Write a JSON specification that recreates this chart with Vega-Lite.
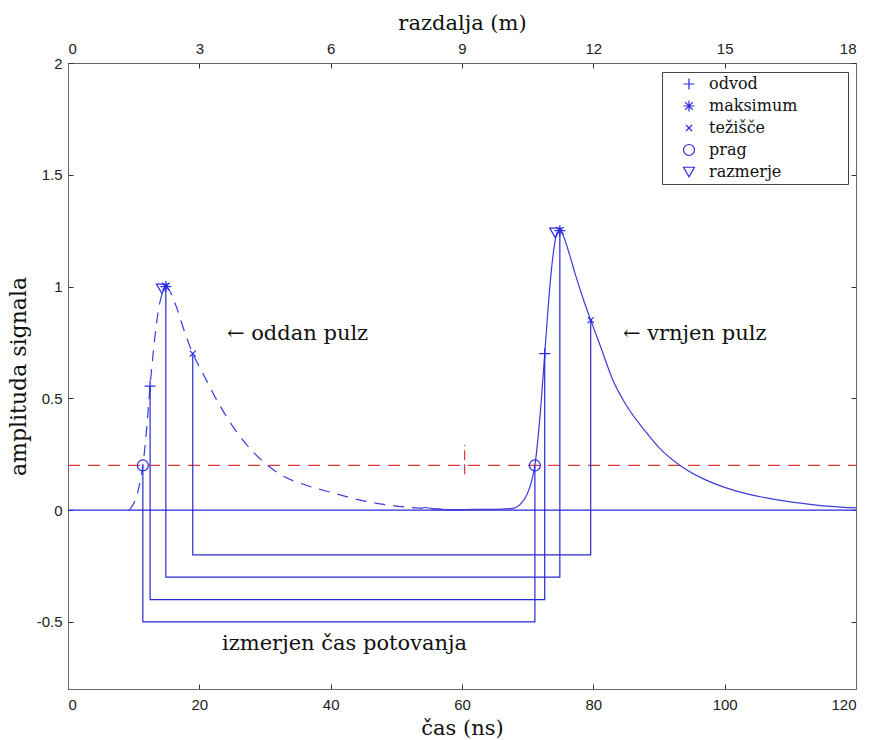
{
  "$schema": "https://vega.github.io/schema/vega-lite/v6.json",
  "width": 788,
  "height": 626,
  "autosize": {"type": "none"},
  "padding": {"left": 68, "top": 63, "right": 13, "bottom": 51},
  "background": "white",
  "config": {
    "view": {"stroke": "#555"},
    "axis": {
      "grid": false,
      "tickSize": -5,
      "tickColor": "#333",
      "domainColor": "#666",
      "labelFont": "Liberation Sans",
      "labelFontSize": 15,
      "labelColor": "#222",
      "titleFont": "DejaVu Serif",
      "titleFontSize": 21,
      "titleFontWeight": "normal",
      "titleColor": "#111"
    },
    "legend": {
      "labelFont": "DejaVu Serif",
      "labelFontSize": 16,
      "labelColor": "#111"
    }
  },
  "datasets": {
    "tx": [
      {"t": 9.3, "a": 0.0}, {"t": 10.0, "a": 0.03}, {"t": 10.7, "a": 0.09}, {"t": 11.4, "a": 0.2},
      {"t": 12.0, "a": 0.37}, {"t": 12.5, "a": 0.555}, {"t": 13.0, "a": 0.71}, {"t": 13.5, "a": 0.84},
      {"t": 14.0, "a": 0.93}, {"t": 14.5, "a": 0.98}, {"t": 14.9, "a": 1.0}, {"t": 15.5, "a": 0.98},
      {"t": 16.5, "a": 0.91}, {"t": 17.5, "a": 0.82}, {"t": 19.0, "a": 0.7}, {"t": 20.4, "a": 0.62},
      {"t": 22.7, "a": 0.49}, {"t": 25.2, "a": 0.37}, {"t": 28.2, "a": 0.26}, {"t": 30.0, "a": 0.21},
      {"t": 32.3, "a": 0.16}, {"t": 36.4, "a": 0.11}, {"t": 40.0, "a": 0.08}, {"t": 44.5, "a": 0.045},
      {"t": 49.5, "a": 0.02}, {"t": 55.6, "a": 0.005}, {"t": 60.0, "a": 0.0}
    ],
    "rx": [
      {"t": 54.0, "a": 0.013}, {"t": 56.0, "a": 0.006}, {"t": 58.6, "a": 0.002}, {"t": 62.0, "a": 0.003},
      {"t": 65.0, "a": 0.003}, {"t": 67.8, "a": 0.008}, {"t": 69.0, "a": 0.03}, {"t": 69.9, "a": 0.07},
      {"t": 70.6, "a": 0.13}, {"t": 71.1, "a": 0.2}, {"t": 71.6, "a": 0.33}, {"t": 72.1, "a": 0.5},
      {"t": 72.6, "a": 0.7}, {"t": 73.1, "a": 0.9}, {"t": 73.6, "a": 1.07}, {"t": 74.1, "a": 1.19},
      {"t": 74.5, "a": 1.24}, {"t": 74.9, "a": 1.25}, {"t": 75.4, "a": 1.23}, {"t": 76.2, "a": 1.16},
      {"t": 77.2, "a": 1.06}, {"t": 78.4, "a": 0.95}, {"t": 79.6, "a": 0.85}, {"t": 81.0, "a": 0.74},
      {"t": 83.0, "a": 0.58}, {"t": 85.0, "a": 0.47}, {"t": 88.0, "a": 0.35}, {"t": 90.0, "a": 0.28},
      {"t": 93.2, "a": 0.2}, {"t": 96.7, "a": 0.141}, {"t": 100.0, "a": 0.102}, {"t": 103.4, "a": 0.073},
      {"t": 108.0, "a": 0.046}, {"t": 113.0, "a": 0.026}, {"t": 116.0, "a": 0.017}, {"t": 120.0, "a": 0.01}
    ],
    "zero": [{"t": 0, "a": 0}, {"t": 120, "a": 0}],
    "thr": [{"t": 0, "a": 0.2}, {"t": 120, "a": 0.2}],
    "marks": [
      {"t": 12.5, "a": 0.555, "kind": "odvod"}, {"t": 72.6, "a": 0.7, "kind": "odvod"},
      {"t": 14.9, "a": 1.0, "kind": "maksimum"}, {"t": 74.9, "a": 1.25, "kind": "maksimum"},
      {"t": 19.0, "a": 0.7, "kind": "težišče"}, {"t": 79.6, "a": 0.85, "kind": "težišče"},
      {"t": 11.4, "a": 0.2, "kind": "prag"}, {"t": 71.1, "a": 0.2, "kind": "prag"},
      {"t": 14.3, "a": 0.99, "kind": "razmerje"}, {"t": 74.2, "a": 1.24, "kind": "razmerje"}
    ],
    "brackets": [
      {"g": "prag", "o": 1, "t": 11.4, "a": 0.2}, {"g": "prag", "o": 2, "t": 11.4, "a": -0.5},
      {"g": "prag", "o": 3, "t": 71.1, "a": -0.5}, {"g": "prag", "o": 4, "t": 71.1, "a": 0.2},
      {"g": "odvod", "o": 1, "t": 12.5, "a": 0.555}, {"g": "odvod", "o": 2, "t": 12.5, "a": -0.4},
      {"g": "odvod", "o": 3, "t": 72.6, "a": -0.4}, {"g": "odvod", "o": 4, "t": 72.6, "a": 0.7},
      {"g": "maksimum", "o": 1, "t": 14.9, "a": 1.0}, {"g": "maksimum", "o": 2, "t": 14.9, "a": -0.3},
      {"g": "maksimum", "o": 3, "t": 74.9, "a": -0.3}, {"g": "maksimum", "o": 4, "t": 74.9, "a": 1.25},
      {"g": "tezisce", "o": 1, "t": 19.0, "a": 0.7}, {"g": "tezisce", "o": 2, "t": 19.0, "a": -0.2},
      {"g": "tezisce", "o": 3, "t": 79.6, "a": -0.2}, {"g": "tezisce", "o": 4, "t": 79.6, "a": 0.85}
    ],
    "redtick": [{"t": 60.4, "a": 0.16, "a2": 0.29}],
    "labels": [
      {"t": 24.2, "a": 0.79, "label": "← oddan pulz"},
      {"t": 84.5, "a": 0.79, "label": "← vrnjen pulz"},
      {"t": 23.45, "a": -0.6, "label": "izmerjen čas potovanja"}
    ],
    "axes": [{"t": 0, "a": 0}]
  },
  "resolve": {"axis": {"x": "independent", "y": "independent"}},
  "layer": [
    {
      "encoding": {
        "x": {
          "field": "t", "type": "quantitative",
          "scale": {"domain": [0, 120], "nice": false, "zero": false},
          "axis": {"orient": "bottom", "values": [0, 20, 40, 60, 80, 100, 120], "labelPadding": 13, "title": "čas (ns)", "titlePadding": 5}
        },
        "y": {
          "field": "a", "type": "quantitative",
          "scale": {"domain": [-0.8, 2], "nice": false, "zero": false},
          "axis": {"orient": "left", "values": [-0.5, 0, 0.5, 1, 1.5, 2], "labelExpr": "'' + datum.value", "labelPadding": 11, "title": "amplituda signala", "titleFontSize": 22, "titlePadding": 6}
        }
      },
      "layer": [
        {"data": {"name": "zero"}, "mark": {"type": "line", "color": "#2828d8", "strokeWidth": 1.2}},
        {"data": {"name": "thr"}, "mark": {"type": "line", "color": "#e03a3a", "strokeWidth": 1.2, "strokeDash": [12, 8]}},
        {"data": {"name": "tx"}, "mark": {"type": "line", "color": "#3c3cdc", "strokeWidth": 1.2, "strokeDash": [11, 8], "interpolate": "monotone"}},
        {"data": {"name": "rx"}, "mark": {"type": "line", "color": "#3c3cdc", "strokeWidth": 1.2, "interpolate": "monotone"}},
        {"data": {"name": "brackets"}, "mark": {"type": "line", "color": "#2828d8", "strokeWidth": 1.2},
         "encoding": {"detail": {"field": "g"}, "order": {"field": "o", "type": "quantitative"}}},
        {"data": {"name": "redtick"}, "mark": {"type": "rule", "color": "#e03a3a", "strokeWidth": 1.2, "strokeDash": [10, 4]},
         "encoding": {"y2": {"field": "a2"}}},
        {"data": {"name": "marks"}, "mark": {"type": "point", "filled": false, "color": "#2a2ae0", "strokeWidth": 1.2, "size": 120, "opacity": 1},
         "encoding": {
           "shape": {
             "field": "kind", "type": "nominal",
             "scale": {
               "domain": ["odvod", "maksimum", "težišče", "prag", "razmerje"],
               "range": ["M-1,0L1,0M0,-1L0,1", "M-1,0L1,0M0,-1L0,1M-0.7,-0.7L0.7,0.7M-0.7,0.7L0.7,-0.7", "M-0.55,-0.55L0.55,0.55M-0.55,0.55L0.55,-0.55", "circle", "triangle-down"]
             },
             "legend": {
               "title": "mmmmm", "titleOrient": "right", "titleColor": "transparent", "titleFontSize": 10, "titlePadding": 2,
               "orient": "none", "legendX": 594, "legendY": 9,
               "strokeColor": "#444", "fillColor": "white", "padding": 4,
               "symbolOffset": 15, "labelOffset": 12, "rowPadding": 6,
               "symbolSize": 120, "symbolStrokeColor": "#2a2ae0", "symbolFillColor": "transparent", "symbolStrokeWidth": 1.2,
               "labelFont": "DejaVu Serif", "labelFontSize": 16, "labelColor": "#111",
               "encode": {"labels": {"update": {"font": {"value": "DejaVu Serif"}, "fontSize": {"value": 16}}}}
             }
           }
         }},
        {"data": {"name": "labels"}, "mark": {"type": "text", "align": "left", "baseline": "middle", "font": "DejaVu Serif", "fontSize": 21, "color": "#111"},
         "encoding": {"text": {"field": "label"}}}
      ]
    },
    {
      "data": {"name": "axes"},
      "mark": {"type": "point", "opacity": 0},
      "encoding": {
        "x": {
          "field": "t", "type": "quantitative",
          "scale": {"domain": [0, 120], "nice": false, "zero": false},
          "axis": {"orient": "top", "values": [0, 20, 40, 60, 80, 100, 120], "labelExpr": "'' + round(datum.value * 0.15)", "labelPadding": 12, "title": "razdalja (m)", "titlePadding": 8}
        },
        "y": {
          "field": "a", "type": "quantitative",
          "scale": {"domain": [-0.8, 2], "nice": false, "zero": false},
          "axis": {"orient": "right", "values": [-0.5, 0, 0.5, 1, 1.5, 2], "labels": false, "title": null}
        }
      }
    }
  ]
}
